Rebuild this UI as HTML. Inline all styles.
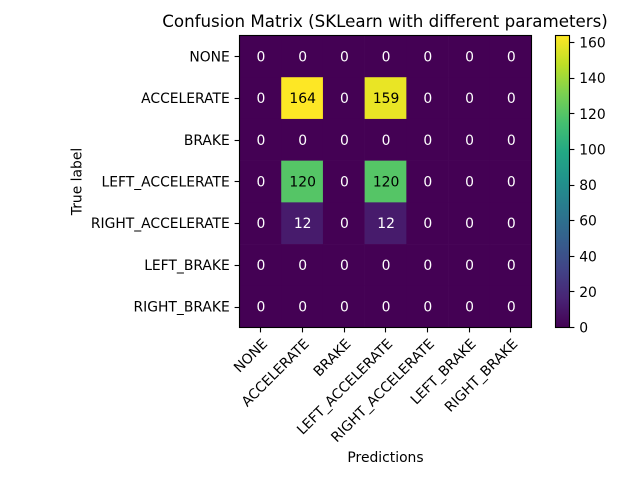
<!DOCTYPE html>
<html>
<head>
<meta charset="utf-8">
<title>Confusion Matrix</title>
<style>
html,body{margin:0;padding:0;background:#fff;width:640px;height:480px;overflow:hidden}
svg{display:block}
text{font-family:"DejaVu Sans","Liberation Sans",sans-serif;font-size:13.89px;fill:#000}
</style>
</head>
<body>
<svg id="chart" xmlns="http://www.w3.org/2000/svg" width="640" height="480" viewBox="0 0 640 480">
<defs>
<linearGradient id="viridis-gradient" x1="0" y1="1" x2="0" y2="0">
<stop offset="0" stop-color="#440154"/><stop offset="0.1" stop-color="#482475"/><stop offset="0.2" stop-color="#414487"/><stop offset="0.3" stop-color="#355f8d"/><stop offset="0.4" stop-color="#2a788e"/><stop offset="0.5" stop-color="#21918c"/><stop offset="0.6" stop-color="#22a884"/><stop offset="0.7" stop-color="#44bf70"/><stop offset="0.8" stop-color="#7ad151"/><stop offset="0.9" stop-color="#bddf26"/><stop offset="1" stop-color="#fde725"/>
</linearGradient>
</defs>
<text x="385" y="27" text-anchor="middle" style="font-size:16.67px">Confusion Matrix (SKLearn with different parameters)</text>
<text x="385.5" y="462" text-anchor="middle">Predictions</text>
<text transform="translate(81.5,181.5) rotate(-90)" text-anchor="middle">True label</text>
<g id="cells"></g>
<g id="cell-labels"></g>
<rect x="239.5" y="35.5" width="292" height="292" fill="none" stroke="#000" stroke-width="1.11"/>
<g id="x-axis"></g>
<g id="y-axis"></g>
<rect x="555.5" y="35.5" width="14" height="292" fill="url(#viridis-gradient)"/>
<rect x="555.5" y="35.5" width="14" height="292" fill="none" stroke="#000" stroke-width="1.11"/>
<g id="colorbar-axis"></g>
</svg>
<script>
const categories = ["NONE", "ACCELERATE", "BRAKE", "LEFT_ACCELERATE", "RIGHT_ACCELERATE", "LEFT_BRAKE", "RIGHT_BRAKE"];
const matrixValues = [
  [0, 0, 0, 0, 0, 0, 0],
  [0, 164, 0, 159, 0, 0, 0],
  [0, 0, 0, 0, 0, 0, 0],
  [0, 120, 0, 120, 0, 0, 0],
  [0, 12, 0, 12, 0, 0, 0],
  [0, 0, 0, 0, 0, 0, 0],
  [0, 0, 0, 0, 0, 0, 0]
];
const colorbarTicks = [0, 20, 40, 60, 80, 100, 120, 140, 160];

const NS = 'http://www.w3.org/2000/svg';
const plot = { left: 239.5, top: 35.5, size: 292 };
const bar = { left: 555.5, right: 569.5, top: 35.5, bottom: 327.5 };
const viridis = ['#440154','#482475','#414487','#355f8d','#2a788e','#21918c','#22a884','#44bf70','#7ad151','#bddf26','#fde725'];

const allValues = matrixValues.flat();
const maxValue = Math.max(...allValues);
const minValue = Math.min(...allValues);

function xScale(i) { return plot.left + (i + 0.5) / categories.length * plot.size; }
function yScale(i) { return plot.top + (i + 0.5) / categories.length * plot.size; }
function barScale(v) { return bar.bottom - (v - minValue) / (maxValue - minValue) * (bar.bottom - bar.top); }
function snapX(x) { return Math.round(x - 0.15) + 0.5; }
function snapY(y) { return Math.round(y - 0.1) + 0.5; }

function hexToRgb(h) { return [1, 3, 5].map(function (p) { return parseInt(h.substr(p, 2), 16); }); }
function colorFor(v) {
  const t = (v - minValue) / (maxValue - minValue) * (viridis.length - 1);
  const i = Math.min(Math.floor(t), viridis.length - 2);
  const f = t - i;
  const a = hexToRgb(viridis[i]);
  const b = hexToRgb(viridis[i + 1]);
  return 'rgb(' + a.map(function (c, k) { return Math.round(c + (b[k] - c) * f); }).join(',') + ')';
}
function make(tag, attrs, parent, content) {
  const el = document.createElementNS(NS, tag);
  Object.keys(attrs).forEach(function (k) { el.setAttribute(k, attrs[k]); });
  if (content !== undefined) el.textContent = content;
  parent.appendChild(el);
  return el;
}
function tickLine(x1, y1, x2, y2, parent) {
  return make('line', { x1: x1, y1: y1, x2: x2, y2: y2, stroke: '#000', 'stroke-width': 1.11 }, parent);
}

const cellsGroup = document.getElementById('cells');
const labelsGroup = document.getElementById('cell-labels');
const xAxisGroup = document.getElementById('x-axis');
const yAxisGroup = document.getElementById('y-axis');
const colorbarGroup = document.getElementById('colorbar-axis');
const cellSize = plot.size / categories.length;

matrixValues.forEach(function (row, r) {
  row.forEach(function (value, c) {
    const cell = make('rect', {
      x: xScale(c) - cellSize / 2,
      y: yScale(r) - cellSize / 2,
      width: cellSize + 0.3,
      height: cellSize + 0.3,
      fill: colorFor(value)
    }, cellsGroup);
    
    

    const label = make('text', {
      x: xScale(c) + 0.6,
      y: yScale(r) + 5,
      'text-anchor': 'middle',
      style: 'fill:' + (value > maxValue / 2 ? '#000' : '#fff')
    }, labelsGroup, String(value));
    
    
  });
});

categories.forEach(function (name, i) {
  const xTick = tickLine(snapX(xScale(i)), 327.5, snapX(xScale(i)), 332.4, xAxisGroup);
  
  

  const xLabel = make('text', {
    transform: 'translate(' + (xScale(i) + 0.3) + ',337.2) rotate(-45)',
    'text-anchor': 'end',
    dy: '10.6'
  }, xAxisGroup, name);
  
  

  const yTick = tickLine(234.6, snapY(yScale(i)), 239.5, snapY(yScale(i)), yAxisGroup);
  
  

  const yLabel = make('text', {
    x: 229.8,
    y: yScale(i) + 5,
    'text-anchor': 'end'
  }, yAxisGroup, name);
  
  
});

colorbarTicks.forEach(function (v) {
  const tick = tickLine(bar.right, Math.floor(barScale(v)) + 0.5, bar.right + 4.9, Math.floor(barScale(v)) + 0.5, colorbarGroup);
  
  

  const label = make('text', {
    x: bar.right + 9.7,
    y: barScale(v) + 5
  }, colorbarGroup, String(v));
  
  
});
</script>
</body>
</html>
